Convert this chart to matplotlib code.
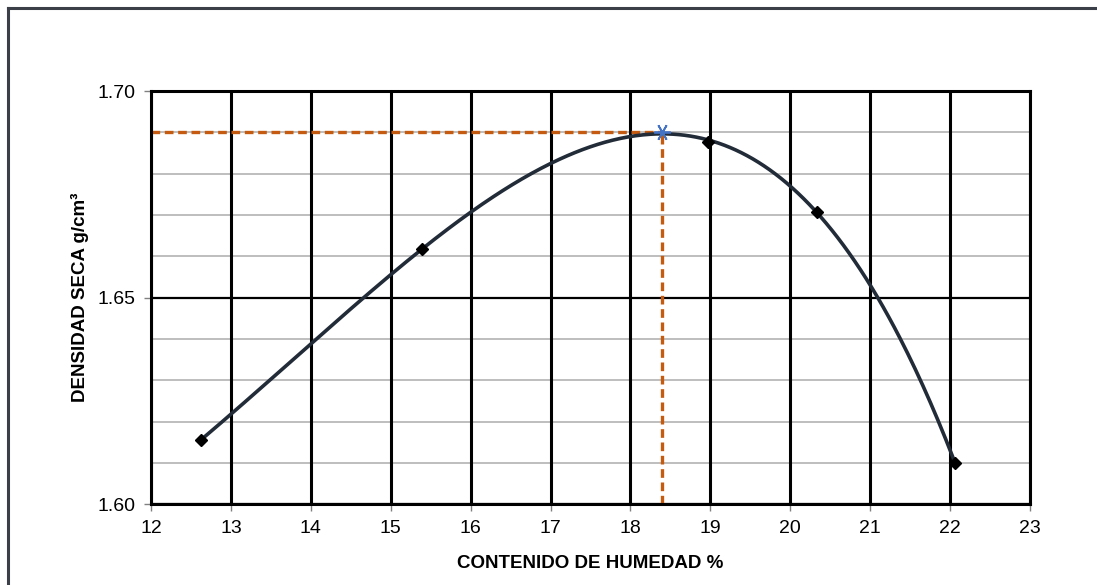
import numpy as np
import matplotlib
matplotlib.use("Agg")
import matplotlib.pyplot as plt
from matplotlib.lines import Line2D
from matplotlib import font_manager

# ---- data ----
humedad = [12.62, 15.39, 18.97, 20.33, 22.06]          # % moisture content
densidad = [1.6155, 1.6617, 1.6877, 1.6708, 1.6101]     # dry density g/cm3
max_humedad = 18.40                                     # optimum moisture
max_densidad = 1.690                                    # max dry density
x_ticks = [12, 13, 14, 15, 16, 17, 18, 19, 20, 21, 22, 23]
y_ticks = [1.60, 1.65, 1.70]
y_minor = [1.61, 1.62, 1.63, 1.64, 1.66, 1.67, 1.68, 1.69]

names = {f.name for f in font_manager.fontManager.ttflist}
fam = "Liberation Sans Narrow" if "Liberation Sans Narrow" in names else "Liberation Sans"
plt.rcParams['font.family'] = [fam, 'DejaVu Sans']

fig = plt.figure(figsize=(10.97, 5.85), dpi=100)
ax = fig.add_axes([151/1097, 1 - 504.3/585, (1030 - 151)/1097, (504.3 - 91)/585])

ax.set_xlim(12, 23)
ax.set_ylim(1.60, 1.70)

# grid
for yv in y_minor:
    ax.axhline(yv, color="#b3b3b3", lw=1.2, zorder=1)
for yv in y_ticks:
    ax.axhline(yv, color="black", lw=1.6, zorder=1.5)
for xv in x_ticks:
    ax.axvline(xv, color="black", lw=2.2, zorder=1.5)

# trend curve (polynomial fitted to the measured points and the read maximum)
fit_x = humedad + [max_humedad]
fit_y = densidad + [max_densidad]
coef = np.polyfit(fit_x, fit_y, 4)
xs = np.linspace(min(humedad), max(humedad), 400)
ax.plot(xs, np.polyval(coef, xs), color="#222b38", lw=2.6, zorder=3)

# points
ax.plot(humedad, densidad, linestyle="none", marker="D", ms=6.5, color="black", zorder=4)

# dashed guide lines
orange = "#c55a11"
ax.plot([12, max_humedad], [max_densidad, max_densidad], color=orange, lw=2.4,
        dashes=(2.6, 1.4), zorder=2.5)
ax.plot([max_humedad, max_humedad], [1.60, max_densidad], color=orange, lw=2.4,
        dashes=(2.6, 1.4), zorder=2.5)
ax.plot([max_humedad], [max_densidad], linestyle="none", marker=(6, 2, 90), ms=12,
        mew=1.3, color="#4472c4", zorder=5)

ax.set_xticks(x_ticks)
ax.set_yticks(y_ticks)
ax.set_yticklabels([f"{v:.2f}" for v in y_ticks])
ax.tick_params(axis="both", direction="out", length=5, width=1, color="#808080",
               labelsize=14, pad=6)
for s in ax.spines.values():
    s.set_color("black")
    s.set_linewidth(2.2)

ax.set_xlabel("CONTENIDO DE HUMEDAD %", fontsize=13.5, fontweight="bold", labelpad=13)
ax.set_ylabel("DENSIDAD SECA g/cm³", fontsize=13.5, fontweight="bold", labelpad=6)

# outer frame (top and left edges visible)
fig.add_artist(Line2D([8/1097, 8/1097], [1 - 8/585, 0], transform=fig.transFigure,
                      color="#3a3f48", lw=2.2))
fig.add_artist(Line2D([8/1097, 1], [1 - 8/585, 1 - 8/585], transform=fig.transFigure,
                      color="#3a3f48", lw=2.2))

fig.savefig("out.png", dpi=100)
